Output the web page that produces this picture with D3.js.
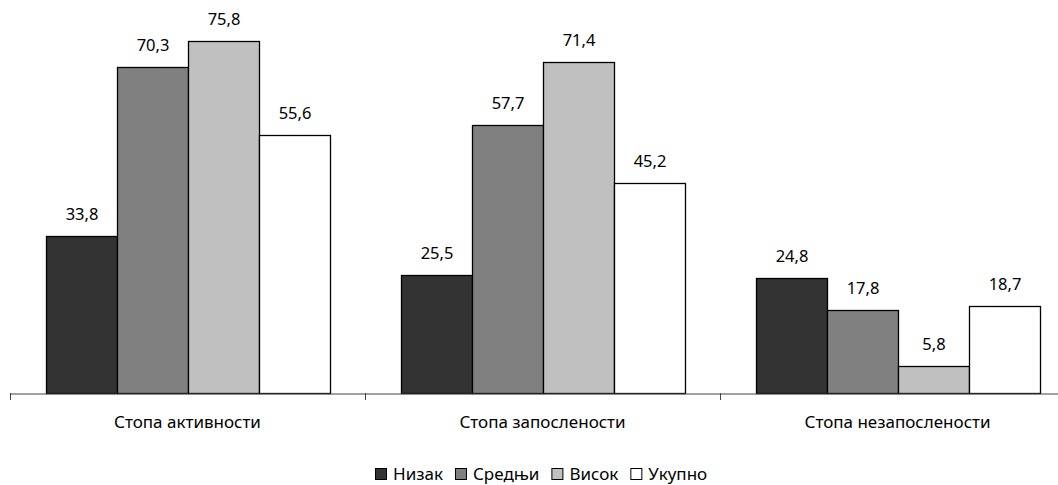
<!DOCTYPE html>
<html><head><meta charset="utf-8">
<script src="https://cdn.jsdelivr.net/npm/d3@7"></script>
<style>body{margin:0;background:#fff}svg{display:block}text{font-family:"Noto Sans","Open Sans",sans-serif;fill:#000}</style>
</head><body>
<svg id="c" width="1058" height="485"></svg>
<script>
const categories = ["Стопа активности", "Стопа запослености", "Стопа незапослености"];
const seriesNames = ["Низак", "Средњи", "Висок", "Укупно"];
const seriesColors = ["#333333", "#808080", "#c0c0c0", "#ffffff"];
const nizak = [33.8, 25.5, 24.8];
const srednji = [70.3, 57.7, 17.8];
const visok = [75.8, 71.4, 5.8];
const ukupno = [55.6, 45.2, 18.7];
const seriesValues = [nizak, srednji, visok, ukupno];

const FS = 16.5;
const svg = d3.select("#c");
const baseY = 393;
const x0 = d3.scaleBand().domain(categories).range([10, 1075]).paddingInner(0).paddingOuter(0);
const x1 = d3.scaleBand().domain(seriesNames).range([0, x0.bandwidth()]).paddingOuter(0.5).paddingInner(0);
const y = d3.scaleLinear().domain([0, 80]).range([baseY, baseY - 80 * 4.64]);

const fmt = v => String(v).replace(".", ",");

categories.forEach((c, ci) => {
  const g = svg.append("g").attr("transform", `translate(${x0(c)},0)`);
  seriesNames.forEach((s, si) => {
    const v = seriesValues[si][ci];
    g.append("rect")
      .attr("x", Math.round(x1(s)) + 0.5)
      .attr("y", Math.round(y(v)) + 0.5)
      .attr("width", Math.round(x1.bandwidth()))
      .attr("height", baseY - Math.round(y(v)))
      .attr("fill", seriesColors[si])
      .attr("stroke", "#000").attr("stroke-width", 1.3);
    g.append("text")
      .attr("x", x1(s) + x1.bandwidth() / 2 + 1)
      .attr("y", y(v) - 16)
      .attr("text-anchor", "middle")
      .attr("font-size", FS)
      .text(fmt(v));
  });
});

// axis
const axis = d3.axisBottom(x0).tickSize(0).tickSizeOuter(0);
const ax = svg.append("g").attr("transform", `translate(0,${baseY + 0.5})`).call(axis);
ax.select(".domain").attr("stroke", "#444").attr("stroke-width", 1);
ax.selectAll(".tick text").attr("font-size", FS + 0.5).attr("dy", 0).attr("y", 34)
  .attr("font-family", '"Noto Sans","Open Sans",sans-serif').attr("fill", "#000");
// category boundary ticks
const bounds = [10, 10 + x0.bandwidth(), 10 + 2 * x0.bandwidth(), 10 + 3 * x0.bandwidth()];
svg.selectAll(".btick").data(bounds).enter().append("line")
  .attr("x1", d => Math.round(d) + 0.5).attr("x2", d => Math.round(d) + 0.5)
  .attr("y1", baseY).attr("y2", baseY + 7).attr("stroke", "#444");

// legend
const lg = svg.append("g");
let cx = 0;
const gap = 12;
seriesNames.forEach((s, i) => {
  const it = lg.append("g").attr("transform", `translate(${cx},0)`);
  it.append("rect").attr("x", 0.5).attr("y", 468.5).attr("width", 11).attr("height", 11)
    .attr("fill", seriesColors[i]).attr("stroke", "#000").attr("stroke-width", 1);
  const t = it.append("text").attr("x", 18).attr("y", 479.5).attr("font-size", FS + 0.5).text(s);
  cx += 18 + t.node().getComputedTextLength() + gap;
});
const totalW = cx - gap;
lg.attr("transform", `translate(${Math.round(541 - totalW / 2)},0)`);
</script>
</body></html>
